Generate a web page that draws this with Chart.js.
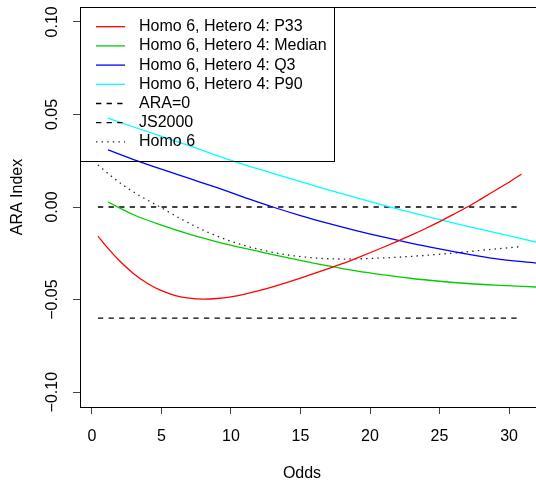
<!DOCTYPE html>
<html>
<head>
<meta charset="utf-8">
<script src="https://cdn.jsdelivr.net/npm/chart.js@4.4.1/dist/chart.umd.min.js"></script>
<style>
html, body { margin: 0; padding: 0; background: #fff; }
#contenedor { width: 536px; height: 481px; }
</style>
</head>
<body>
<div id="contenedor"><canvas id="grafico"></canvas></div>
<script>
// valores
const oddsP33 = [0.43, 1, 2, 3, 4, 5, 6, 7, 8, 9, 10, 11, 12, 13, 14, 15, 16, 17, 18, 19, 20, 21, 22, 23, 24, 25, 26, 27, 28, 29, 30, 30.9];
const p33 = [-0.0157, -0.021, -0.0292, -0.036, -0.0413, -0.0452, -0.0478, -0.0492, -0.0497, -0.0494, -0.0485, -0.047, -0.0452, -0.0431, -0.0408, -0.0384, -0.0359, -0.0333, -0.0306, -0.0277, -0.0247, -0.0216, -0.0184, -0.0151, -0.0116, -0.0079, -0.004, 0.0, 0.0044, 0.0089, 0.0134, 0.0178];

const oddsHetero = [1.15, 3, 5, 7, 9, 11, 13, 15, 17, 19, 21, 23, 25, 27, 29, 31.94];
const mediana = [0.0027, -0.0042, -0.0098, -0.0147, -0.0188, -0.0224, -0.0257, -0.0288, -0.0318, -0.0345, -0.0367, -0.0386, -0.0401, -0.0413, -0.0422, -0.0432];
const q3 = [0.0308, 0.0256, 0.0204, 0.0154, 0.0104, 0.0051, 0.0, -0.0046, -0.0088, -0.0127, -0.0163, -0.0196, -0.0226, -0.0254, -0.0279, -0.0303];
const p90 = [0.048, 0.0432, 0.0381, 0.0331, 0.0278, 0.0228, 0.0182, 0.0137, 0.0093, 0.005, 0.0009, -0.003, -0.0068, -0.0104, -0.0138, -0.0189];

const oddsRef = [0.43, 30.7];
const ara0 = [0, 0];
const js2000 = [-0.06, -0.06];

const oddsHomo = [0.43, 1.5, 2.5, 3.5, 4.9, 6.3, 8, 10, 12, 14, 16, 18, 20, 22, 24, 26, 28, 30.7];
const homo6 = [0.0227, 0.016, 0.0105, 0.0058, 0.0, -0.006, -0.0125, -0.0185, -0.0228, -0.0258, -0.0275, -0.0281, -0.0278, -0.0271, -0.0261, -0.0249, -0.0234, -0.0215];

const xTicks = [0, 5, 10, 15, 20, 25, 30];
const yTicks = [-0.10, -0.05, 0.00, 0.05, 0.10];
const yTickLabels = ['\u22120.10', '\u22120.05', '0.00', '0.05', '0.10'];

const fuente = '"Liberation Sans", Arial, sans-serif';

function puntos(xs, ys) {
    return xs.map((x, i) => ({x: x, y: ys[i]}));
}

function serie(label, xs, ys, color, dash) {
    return {
        label: label,
        data: puntos(xs, ys),
        borderColor: color,
        borderWidth: 1.3,
        borderDash: dash || [],
        pointRadius: 0,
        fill: false,
        cubicInterpolationMode: 'monotone'
    };
}

const rayas = [5.3, 5.3];
const puntitos = [1.4, 4.2];

const datasets = [
    serie('Homo 6, Hetero 4: P33', oddsP33, p33, '#ff0000'),
    serie('Homo 6, Hetero 4: Median', oddsHetero, mediana, '#00cd00'),
    serie('Homo 6, Hetero 4: Q3', oddsHetero, q3, '#0000ff'),
    serie('Homo 6, Hetero 4: P90', oddsHetero, p90, '#00ffff'),
    serie('ARA=0', oddsRef, ara0, '#000000', rayas),
    serie('JS2000', oddsRef, js2000, '#000000', rayas),
    serie('Homo 6', oddsHomo, homo6, '#222222', puntitos)
];

// ejes, titulos y leyenda al estilo R
const estiloR = {
    id: 'estiloR',
    afterDraw(chart) {
        const ctx = chart.ctx;
        const area = chart.chartArea;
        const ejeY = chart.scales.y;
        ctx.save();
        ctx.strokeStyle = '#000';
        ctx.lineWidth = 1;
        ctx.beginPath();
        ctx.moveTo(area.left, area.top + 0.5);
        ctx.lineTo(area.right, area.top + 0.5);
        ctx.stroke();

        ctx.fillStyle = '#000';
        ctx.font = '16px ' + fuente;
        ctx.textAlign = 'center';
        ctx.textBaseline = 'middle';
        yTicks.forEach((v, i) => {
            const py = ejeY.getPixelForValue(v);
            ctx.save();
            ctx.translate(53, py);
            ctx.rotate(-Math.PI / 2);
            ctx.fillText(yTickLabels[i], 0, 0);
            ctx.restore();
        });

        ctx.fillText('Odds', 302, 474);
        ctx.save();
        ctx.translate(18, 197);
        ctx.rotate(-Math.PI / 2);
        ctx.fillText('ARA Index', 0, 0);
        ctx.restore();

        // leyenda
        ctx.strokeRect(80.5, 7.5, 254, 154);
        ctx.textAlign = 'left';
        chart.data.datasets.forEach((ds, i) => {
            const fy = 26.7 + i * 19.2;
            ctx.save();
            ctx.lineWidth = 1.3;
            ctx.strokeStyle = ds.borderColor;
            ctx.setLineDash(ds.borderDash);
            ctx.beginPath();
            ctx.moveTo(96, fy);
            ctx.lineTo(125, fy);
            ctx.stroke();
            ctx.restore();
            ctx.fillText(ds.label, 139, fy);
        });
        ctx.restore();
    }
};

new Chart(document.getElementById('grafico'), {
    type: 'line',
    data: { datasets: datasets },
    options: {
        responsive: true,
        maintainAspectRatio: false,
        animation: false,
        layout: { padding: { top: 7, right: 0, left: 0, bottom: 0 } },
        plugins: { legend: { display: false }, tooltip: { enabled: false } },
        scales: {
            x: {
                type: 'linear',
                min: -0.86,
                max: 31.94,
                afterBuildTicks: (s) => { s.ticks = xTicks.map(v => ({value: v})); },
                afterFit: (s) => { s.height = 74; },
                grid: { drawOnChartArea: false, drawTicks: true, tickLength: 7, color: '#444' },
                border: { display: true, color: '#000', width: 1 },
                ticks: { color: '#000', padding: 13, maxRotation: 0, font: { family: fuente, size: 16 } }
            },
            y: {
                type: 'linear',
                min: -0.108,
                max: 0.108,
                afterBuildTicks: (s) => { s.ticks = yTicks.map(v => ({value: v})); },
                afterFit: (s) => { s.width = 80; },
                grid: { drawOnChartArea: false, drawTicks: true, tickLength: 7, color: '#444' },
                border: { display: true, color: '#000', width: 1 },
                ticks: { display: false }
            }
        }
    },
    plugins: [estiloR]
});
</script>
</body>
</html>
